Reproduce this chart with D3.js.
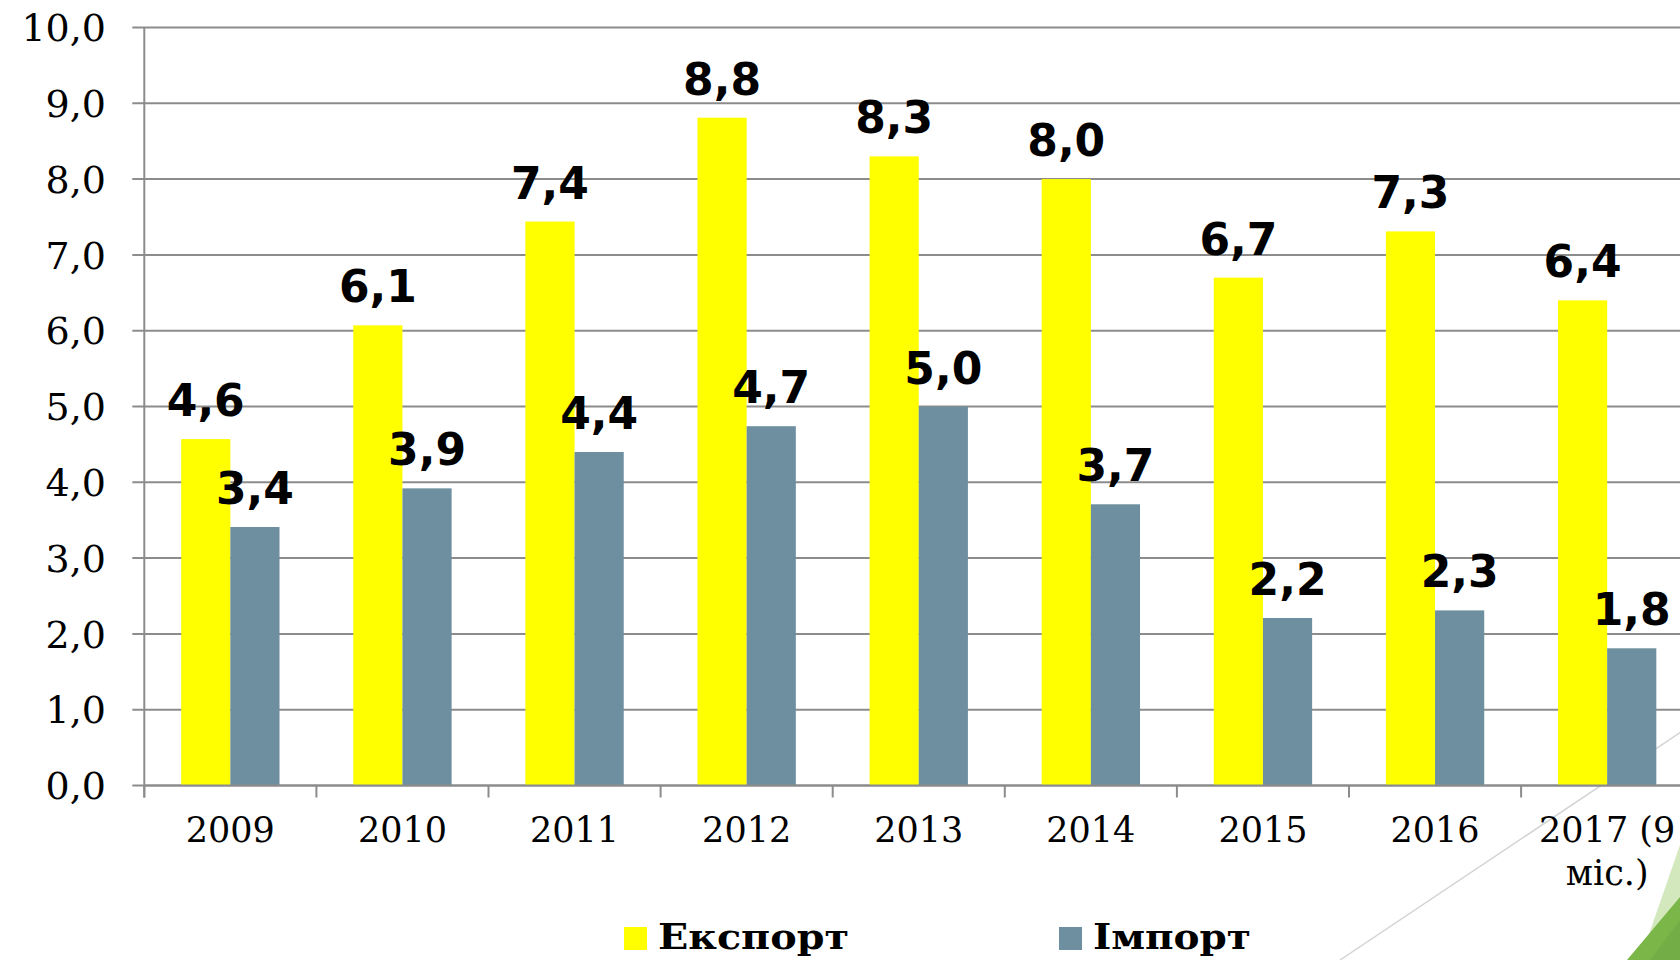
<!DOCTYPE html>
<html lang="uk">
<head>
    <meta charset="UTF-8">
    <title>Експорт / Імпорт</title>
    <script src="https://d3js.org/d3.v7.min.js"></script>
    <style>
        body {
            margin: 0;
            background: #fff;
        }
        svg {
            display: block;
        }
        .axis-text {
            font-family: 'DejaVu Serif', serif;
            font-size: 35px;
            fill: #000;
        }
        .y-text {
            font-size: 38px;
        }
        .value-label {
            font-family: 'DejaVu Sans', Verdana, sans-serif;
            font-weight: bold;
            font-size: 44px;
            fill: #000;
        }
        .legend-text {
            font-family: 'DejaVu Serif', serif;
            font-weight: bold;
            font-size: 36px;
            fill: #000;
        }
    </style>
</head>
<body>
    <div id="chart"></div>

    <script>
        // data
        const years = ['2009', '2010', '2011', '2012', '2013', '2014', '2015', '2016', '2017 (9 міс.)'];
        const exportValues = [4.57, 6.07, 7.44, 8.81, 8.30, 8.00, 6.70, 7.31, 6.40];
        const importValues = [3.41, 3.92, 4.40, 4.74, 5.00, 3.71, 2.21, 2.31, 1.81];
        const yTicks = [0, 1, 2, 3, 4, 5, 6, 7, 8, 9, 10];
        const seriesNames = ['Експорт', 'Імпорт'];
        const seriesColors = ['#ffff00', '#6e8fa0'];

        const width = 1680, height = 960;
        const plotLeft = 144.3, bandStep = 172.1;
        const plotTop = 27.5, plotBottom = 785.5;

        const svg = d3.select('#chart')
            .append('svg')
            .attr('width', width)
            .attr('height', height);

        // background decoration (slide theme)
        svg.append('line')
            .attr('x1', 1340).attr('y1', 960)
            .attr('x2', 1690).attr('y2', 726)
            .attr('stroke', '#d4d4d4')
            .attr('stroke-width', 1.5);
        svg.append('polygon')
            .attr('points', '1680,845 1680,960 1640,960')
            .attr('fill', '#d3e8bd');
        svg.append('polygon')
            .attr('points', '1680,897 1680,960 1627,960')
            .attr('fill', '#7ab648');
        svg.append('polygon')
            .attr('points', '1680,920 1680,960 1650,960')
            .attr('fill', '#72ad45');

        const x = d3.scaleBand()
            .domain(years)
            .range([plotLeft, plotLeft + bandStep * years.length])
            .padding(0);

        const xSub = d3.scaleBand()
            .domain(seriesNames)
            .range([0, x.bandwidth()])
            .paddingInner(0)
            .paddingOuter(0.75);

        const y = d3.scaleLinear()
            .domain([0, 10])
            .range([plotBottom, plotTop]);

        const fmt = v => v.toFixed(1).replace('.', ',');

        // gridlines with left tick stubs
        svg.append('g')
            .selectAll('line')
            .data(yTicks)
            .enter().append('line')
            .attr('x1', plotLeft - 12)
            .attr('x2', width)
            .attr('y1', d => y(d))
            .attr('y2', d => y(d))
            .attr('stroke', '#8c8c8c')
            .attr('stroke-width', 2);

        // y labels
        svg.append('g')
            .selectAll('text')
            .data(yTicks)
            .enter().append('text')
            .attr('class', 'axis-text y-text')
            .attr('x', 106)
            .attr('y', d => y(d))
            .attr('dy', '0.36em')
            .attr('text-anchor', 'end')
            .text(d => fmt(d));

        // bars
        const groups = svg.append('g')
            .selectAll('g')
            .data(years.map((yr, i) => ({ year: yr, values: [exportValues[i], importValues[i]] })))
            .enter().append('g')
            .attr('transform', d => `translate(${x(d.year)},0)`);

        groups.selectAll('rect')
            .data(d => d.values.map((v, j) => ({ key: seriesNames[j], value: v, idx: j })))
            .enter().append('rect')
            .attr('x', d => xSub(d.key))
            .attr('width', xSub.bandwidth())
            .attr('y', d => y(d.value))
            .attr('height', d => y(0) - y(d.value))
            .attr('fill', d => seriesColors[d.idx]);

        // y axis line
        svg.append('line')
            .attr('x1', plotLeft).attr('x2', plotLeft)
            .attr('y1', plotTop).attr('y2', plotBottom + 12)
            .attr('stroke', '#8c8c8c')
            .attr('stroke-width', 2);

        // x axis line + ticks at band edges
        svg.append('line')
            .attr('x1', plotLeft).attr('x2', width)
            .attr('y1', plotBottom).attr('y2', plotBottom)
            .attr('stroke', '#8c8c8c')
            .attr('stroke-width', 2);
        svg.append('g')
            .selectAll('line')
            .data(years)
            .enter().append('line')
            .attr('x1', d => x(d)).attr('x2', d => x(d))
            .attr('y1', plotBottom).attr('y2', plotBottom + 12)
            .attr('stroke', '#8c8c8c')
            .attr('stroke-width', 2);

        // x labels (last one wraps)
        const xl = svg.append('g')
            .selectAll('text')
            .data(years)
            .enter().append('text')
            .attr('class', 'axis-text')
            .attr('text-anchor', 'middle')
            .attr('y', 842);
        xl.each(function (d) {
            const cx = x(d) + x.bandwidth() / 2;
            const parts = d === '2017 (9 міс.)' ? ['2017 (9', 'міс.)'] : [d];
            d3.select(this).selectAll('tspan')
                .data(parts)
                .enter().append('tspan')
                .attr('x', cx)
                .attr('dy', (p, i) => i === 0 ? 0 : 43)
                .text(p => p);
        });

        // value labels
        groups.selectAll('text')
            .data(d => d.values.map((v, j) => ({ key: seriesNames[j], value: v })))
            .enter().append('text')
            .attr('class', 'value-label')
            .attr('text-anchor', 'middle')
            .attr('x', d => xSub(d.key) + xSub.bandwidth() / 2)
            .attr('y', d => y(d.value) - 23)
            .text(d => fmt(d.value));

        // legend
        const legendX = [624, 1059];
        const legendTextW = [191, 158];
        const legend = svg.append('g')
            .selectAll('g')
            .data(seriesNames)
            .enter().append('g')
            .attr('transform', (d, i) => `translate(${legendX[i]},0)`);
        legend.append('rect')
            .attr('x', 0).attr('y', 927)
            .attr('width', 23).attr('height', 23)
            .attr('fill', (d, i) => seriesColors[i]);
        legend.append('text')
            .attr('class', 'legend-text')
            .attr('x', 34)
            .attr('y', 949)
            .attr('textLength', (d, i) => legendTextW[i])
            .attr('lengthAdjust', 'spacingAndGlyphs')
            .text(d => d);
    </script>
</body>
</html>
